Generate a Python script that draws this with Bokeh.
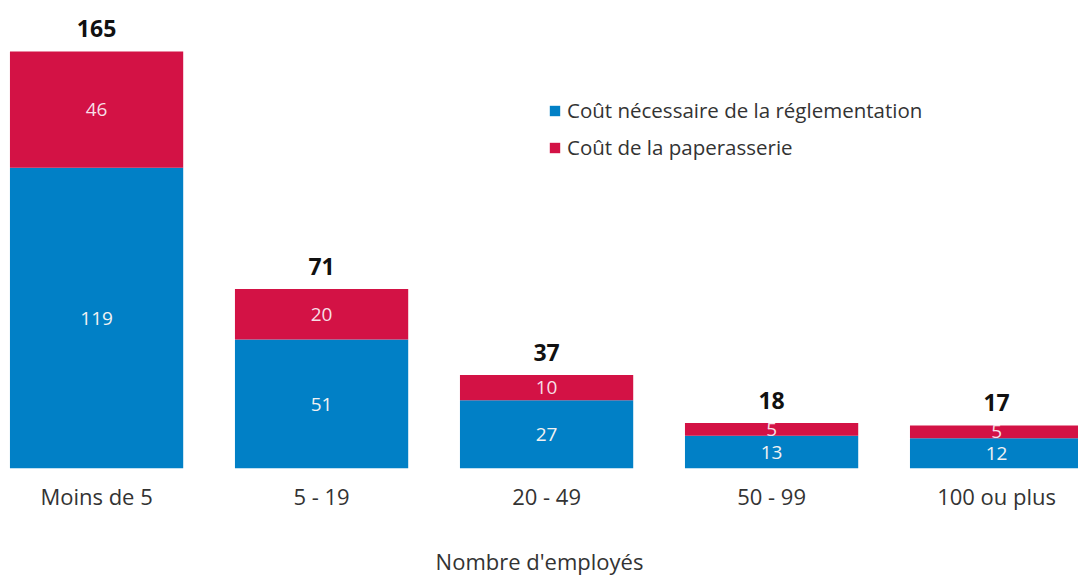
from bokeh.plotting import figure
from bokeh.models import ColumnDataSource, Range1d, FixedTicker, Legend, LegendItem
from bokeh.core.properties import value
from bokeh.embed import file_html
from bokeh.resources import INLINE

categories = ["Moins de 5", "5 - 19", "20 - 49", "50 - 99", "100 ou plus"]
reglementation = [119, 51, 27, 13, 12]
paperasserie = [46, 20, 10, 5, 5]
totals = [165, 71, 37, 18, 17]
series_names = ["Coût nécessaire de la réglementation", "Coût de la paperasserie"]
axis_title = "Nombre d'employés"

BLUE = "#0180C6"
RED = "#D31245"
FONT = "Open Sans"

xs = list(range(len(categories)))
src = ColumnDataSource(dict(
    x=xs,
    reg=reglementation,
    pap=paperasserie,
    top=[r + p for r, p in zip(reglementation, paperasserie)],
    reg_mid=[r / 2 for r in reglementation],
    pap_mid=[r + p / 2 for r, p in zip(reglementation, paperasserie)],
    reg_lbl=[str(v) for v in reglementation],
    pap_lbl=[str(v) for v in paperasserie],
    total=totals,
    total_lbl=[str(v) for v in totals],
))

p = figure(width=1078, height=578, output_backend="svg", toolbar_location=None,
           x_range=Range1d(-0.427, 4.364), y_range=Range1d(0, 185.2),
           min_border_left=0, min_border_right=0, min_border_top=0, min_border_bottom=0)
p.outline_line_color = None
p.background_fill_color = "white"
p.border_fill_color = "white"
p.xgrid.visible = False
p.ygrid.visible = False
p.yaxis.visible = False

bw = 0.77
r_reg = p.vbar(x="x", bottom=0, top="reg", width=bw, source=src, fill_color=BLUE, line_color=None)
r_pap = p.vbar(x="x", bottom="reg", top="top", width=bw, source=src, fill_color=RED, line_color=None)

p.text(x="x", y="reg_mid", text="reg_lbl", source=src, text_align="center", text_baseline="middle",
       text_font=value(FONT), text_font_size="19px", text_color="#f2f2f2")
p.text(x="x", y="pap_mid", text="pap_lbl", source=src, text_align="center", text_baseline="middle",
       text_font=value(FONT), text_font_size="19px", text_color="#f7dfe6")
p.text(x="x", y="total", text="total_lbl", source=src, text_align="center", text_baseline="middle",
       y_offset=-23, text_font=value(FONT), text_font_size="23px", text_font_style="bold",
       text_color="#111111")

ax = p.xaxis[0]
ax.ticker = FixedTicker(ticks=xs)
ax.major_label_overrides = {i: c for i, c in enumerate(categories)}
ax.axis_line_color = None
ax.major_tick_line_color = None
ax.minor_tick_line_color = None
ax.major_tick_out = 0
ax.major_tick_in = 0
ax.major_label_standoff = 12
ax.major_label_text_font = FONT
ax.major_label_text_font_size = "22px"
ax.major_label_text_color = "#333333"
ax.axis_label = axis_title
ax.axis_label_standoff = 32
ax.axis_label_text_font = FONT
ax.axis_label_text_font_size = "22px"
ax.axis_label_text_font_style = "normal"
ax.axis_label_text_color = "#333333"

legend = Legend(items=[LegendItem(label=series_names[0], renderers=[r_reg]),
                       LegendItem(label=series_names[1], renderers=[r_pap])],
                location=(548, 307), padding=0, margin=0, border_line_color=None,
                background_fill_alpha=0, glyph_width=13, glyph_height=13,
                label_standoff=6, spacing=9, label_height=24,
                label_text_font=FONT, label_text_font_size="20.5px", label_text_color="#333333")
p.add_layout(legend, "center")

open("out.html", "w").write(file_html(p, INLINE))
